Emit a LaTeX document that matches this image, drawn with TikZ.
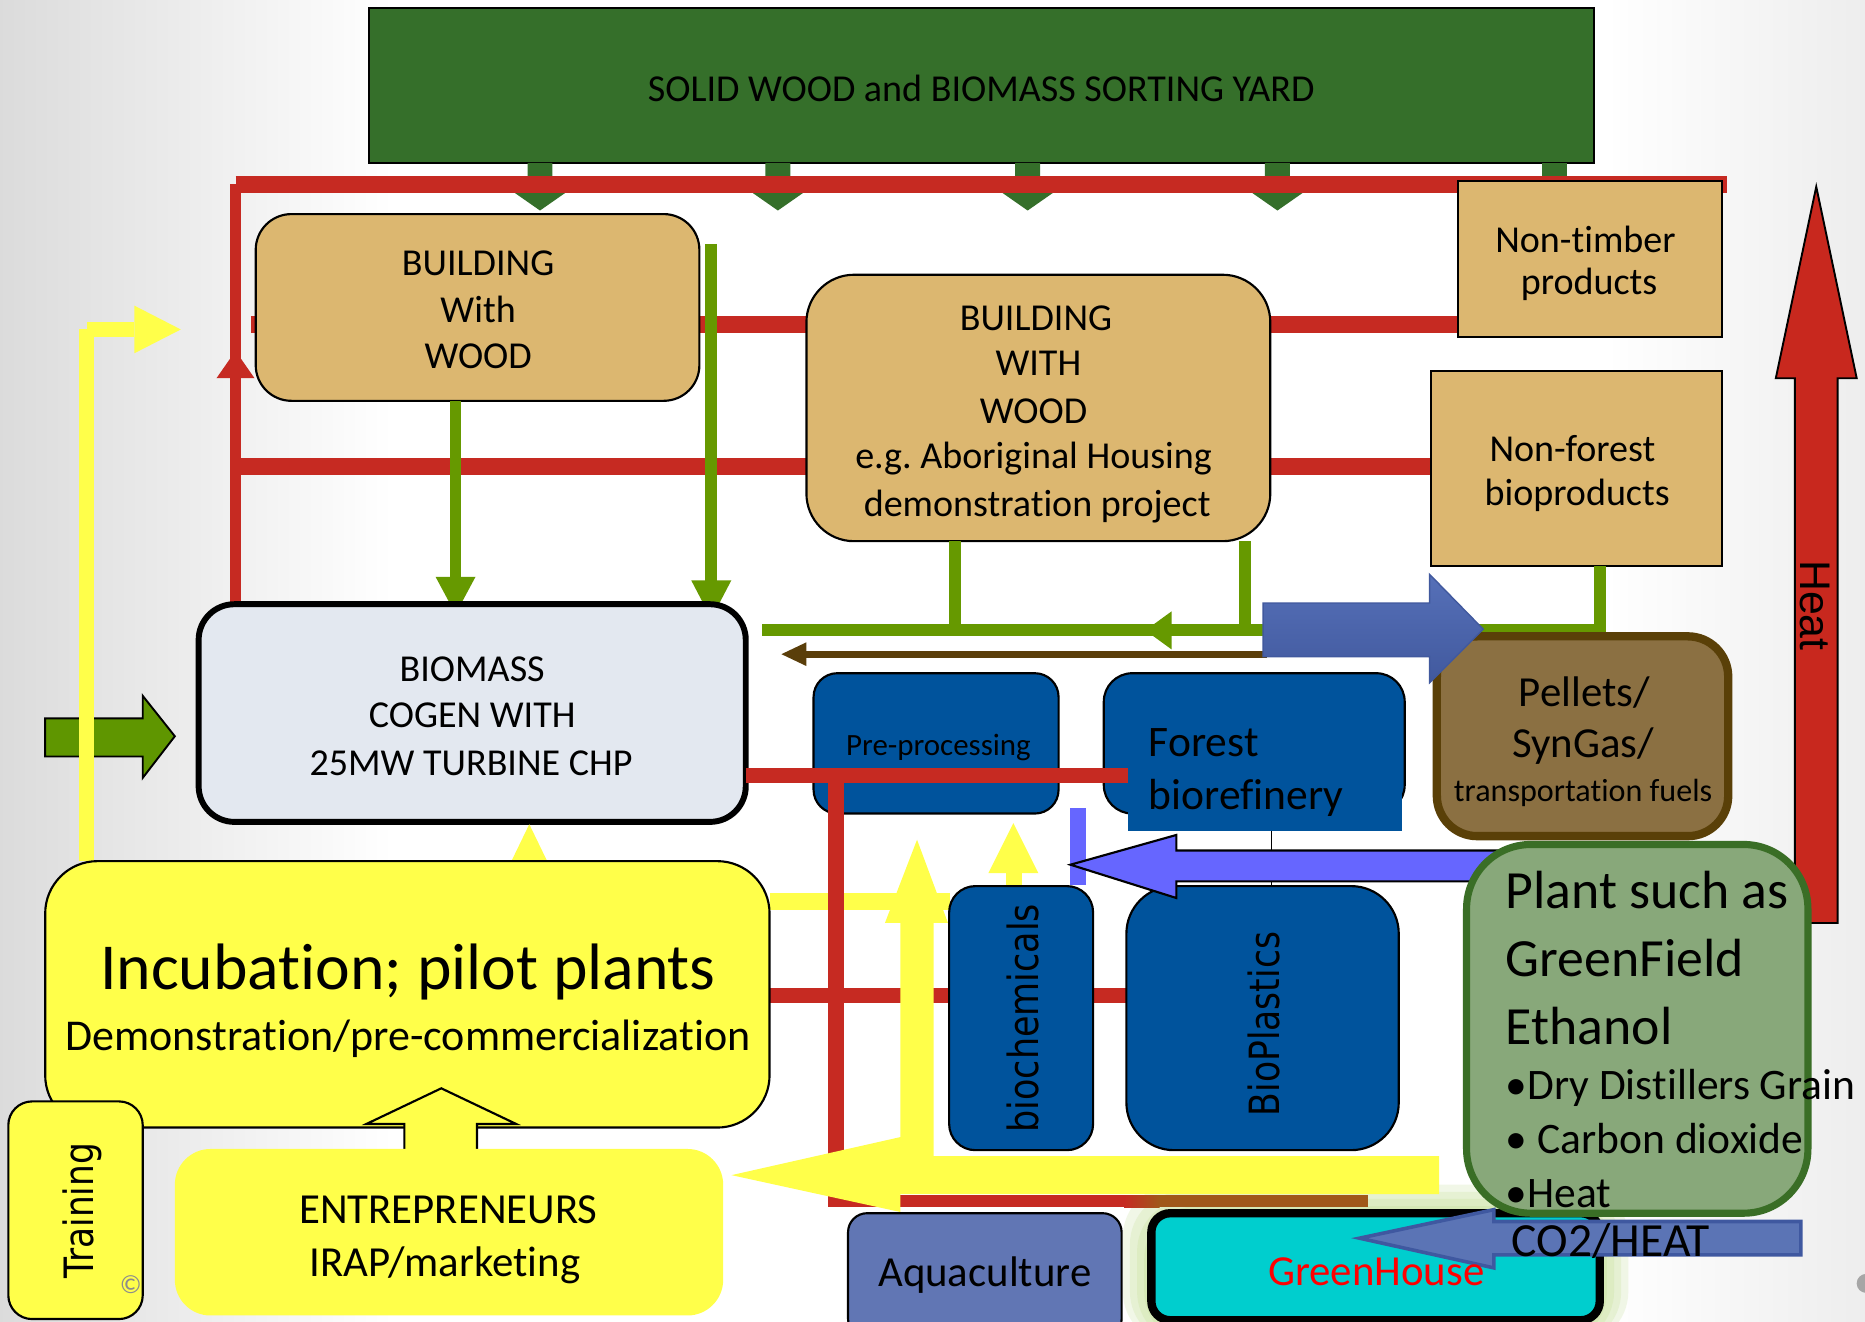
\documentclass[tikz,border=0pt]{standalone}
\usepackage{fontspec}
\usepackage{graphicx}
\setmainfont{Carlito}[Ligatures={NoCommon}]
\newfontfamily\dvfont{DejaVu Sans}
\newfontfamily\arfont{Liberation Sans}
\usetikzlibrary{fit,arrows.meta}
\definecolor{sortgreen}{HTML}{356F2A}
\definecolor{redc}{HTML}{C62A22}
\definecolor{tanc}{HTML}{DCB770}
\definecolor{olivec}{HTML}{669900}
\definecolor{brownc}{HTML}{5A3E0A}
\definecolor{bluetop}{HTML}{5670B8}
\definecolor{bluebot}{HTML}{41599E}
\definecolor{cogenc}{HTML}{E3E8F0}
\definecolor{blockgreen}{HTML}{5F9600}
\definecolor{yelc}{HTML}{FFFF4A}
\definecolor{procblue}{HTML}{00539C}
\definecolor{peric}{HTML}{6666FF}
\definecolor{plantc}{HTML}{88A87A}
\definecolor{plantborder}{HTML}{3A6E26}
\definecolor{pelletc}{HTML}{8B7042}
\definecolor{pelletborder}{HTML}{5A4008}
\definecolor{aquac}{HTML}{6176B4}
\definecolor{ghc}{HTML}{00CECE}
\definecolor{co2c}{HTML}{5B74B5}
\definecolor{co2border}{HTML}{3F58A0}
\definecolor{heatc}{HTML}{C8281E}
\definecolor{orangebrown}{HTML}{A0581A}
\definecolor{glowc}{HTML}{B5D67A}
\newcommand\myfs[2]{\fontsize{#1pt}{#2pt}\selectfont}
\frenchspacing
\begin{document}
\begin{tikzpicture}[x=0.5pt,y=-0.5pt,
  fitbox/.style={inner sep=0pt, outer sep=0pt},
  txt/.style={inner sep=0pt, outer sep=0pt, anchor=base},
  txtw/.style={inner sep=0pt, outer sep=0pt, anchor=base west},
  redh/.style={draw=redc, line width=7pt},
  redv/.style={draw=redc, line width=5pt},
  redm/.style={draw=redc, line width=6.5pt},
  olivel/.style={draw=olivec, line width=5pt},
  tanbox/.style={fitbox, fill=tanc, draw=black, line width=0.9pt},
  procbox/.style={fitbox, fill=procblue, draw=black, line width=0.9pt},
  yelbox/.style={fitbox, fill=yelc, draw=black, line width=0.9pt},
  f16/.style={font=\myfs{16}{19}},
  f18/.style={font=\myfs{18}{21}},
]
\useasboundingbox (0,0) rectangle (1568,1111);
\clip (0,0) rectangle (1568,1111);
% background
\fill[white] (0,0) rectangle (1568,1111);
\shade[left color=black!14, right color=white] (0,0) rectangle (330,1111);
\shade[left color=white, right color=black!7] (1350,0) rectangle (1568,1111);

% greenhouse glow (background)
\foreach \g in {24,18,12,6}{
  \fill[glowc, opacity=0.18, rounded corners=22pt] (968-\g,1020-\g) rectangle (1345+\g,1130);
}

% sorting yard and its arrows
\node[fitbox, fill=sortgreen, draw=black, line width=0.9pt, fit={(310,7) (1340,137)}] (sort) {};
\node[txt, f16] (sortt) at (825,85) {SOLID WOOD and BIOMASS SORTING YARD};
\foreach \a in {454,654,864,1074}{
  \fill[sortgreen] (\a-10.5,137) -- (\a+10.5,137) -- (\a+10.5,162) -- (\a+21.5,162) -- (\a,177) -- (\a-21.5,162) -- (\a-10.5,162) -- cycle;
}
\fill[sortgreen] (1296.5,137) rectangle (1317.5,152);

% red lines upper
\draw[redh] (198,155) -- (1452,155);
\draw[redv] (198,155) -- (198,509);
\fill[redc] (182,318) -- (198,295) -- (214,318) -- cycle;
\draw[redh] (211,273) -- (1226,273);
\draw[redh] (198,392) -- (1203,392);

% upper boxes
\node[tanbox, rounded corners=15pt, fit={(215,180) (588,337)}] (b1) {};
\node[txt, f16] (b1a) at (402,232) {BUILDING};
\node[txt, f16] (b1b) at (402,271) {With};
\node[txt, f16] (b1c) at (402,310) {WOOD};

\node[tanbox, rounded corners=20pt, fit={(678,231) (1068,455)}] (b2) {};
\node[txt, f16] (b2a) at (871,278) {BUILDING};
\node[txt, f16] (b2b) at (873,316) {WITH};
\node[txt, f16] (b2c) at (869,356) {WOOD};
\node[txt, f16] (b2d) at (869,394) {e.g. Aboriginal Housing};
\node[txt, f16] (b2e) at (872,434) {demonstration project};

\node[tanbox, fit={(1226,152) (1448,283)}] (nt) {};
\node[txt, f16] (nta) at (1333,212) {Non-timber};
\node[txt, f16] (ntb) at (1336,248) {products};

\node[tanbox, fit={(1203,312) (1448,476)}] (nf) {};
\node[txt, f16] (nfa) at (1322,388) {Non-forest};
\node[txt, f16] (nfb) at (1326,425) {bioproducts};

% olive green flows
\draw[olivel, -{Triangle[width=15.5pt,length=16pt]}] (383,337) -- (383,517);
\draw[olivel, -{Triangle[width=15.5pt,length=16.5pt]}] (598,205) -- (598,521);
\draw[olivel] (1345,476) -- (1345,530) -- (641,530);
\draw[olivel] (803,455) -- (803,530);
\draw[olivel] (1047,455) -- (1047,530);
\fill[olivec] (963,530) -- (985,514) -- (985,546) -- cycle;

% brown arrow
\draw[brownc, line width=3pt] (1065,550) -- (675,550);
\fill[brownc] (657,550) -- (678,540) -- (678,560) -- cycle;

% heat arrow
\draw[fill=heatc, draw=black, line width=0.8pt] (1509,776) -- (1509,318) -- (1493,318) -- (1527,157) -- (1561,318) -- (1545,318) -- (1545,776) -- cycle;
\node[inner sep=0pt, rotate=-90, font=\arfont\myfs{18}{20}] (heatt) at (1526,509) {Heat};

% cogen
\node[fitbox, fill=cogenc, draw=black, line width=2.5pt, rounded corners=15pt, fit={(167,508) (627,691)}] (cogen) {};
\node[txt, f16] (cga) at (397,573) {BIOMASS};
\node[txt, f16] (cgb) at (397,612) {COGEN WITH};
\node[txt, f16] (cgc) at (396,652) {25MW TURBINE CHP};
\draw[fill=blockgreen, draw=black, line width=0.8pt] (38,604) -- (120,604) -- (120,585) -- (147,619) -- (120,654) -- (120,636) -- (38,636) -- cycle;

% yellow L at left
\fill[yelc] (66,277) rectangle (79,724);
\fill[yelc] (73,271) rectangle (113,283);
\fill[yelc] (113,257) -- (152,277) -- (113,297) -- cycle;
\fill[yelc] (429,726) -- (445,693) -- (461,726) -- cycle;

% processing boxes
\node[procbox, rounded corners=10pt, fit={(684,566) (890,684)}] (pre) {};
\node[txt, font=\myfs{13}{15}] (pret) at (789,635) {Pre-processing};
\node[procbox, rounded corners=12pt, fit={(928,566) (1181,684)}] (forest) {};

% yellow horizontal
\fill[yelc] (647,751) rectangle (799,765);

% red lines lower
\draw[redm] (627,652) -- (948,652);
\draw[redh] (703,646) -- (703,1015);
\draw[redv] (703,1010) -- (946,1010);
\shade[left color=redc, right color=orangebrown] (945,1005) rectangle (975,1015);
\fill[orangebrown] (974,1005) rectangle (1150,1015);
\draw[redm] (647,837) -- (948,837);

% forest text
\fill[procblue] (948,640) rectangle (1179,699);
\node[txtw, font=\myfs{18.3}{21}] (fra) at (966,636) {Forest};
\node[txtw, font=\myfs{18.3}{21}] (frb) at (966,681) {biorefinery};

% big yellow arrow
\fill[yelc] (615,988) -- (757,956) -- (757,776) -- (744,776) -- (771,706) -- (797,776) -- (785,776) -- (785,972) -- (1210,972) -- (1210,1004) -- (757,1004) -- (757,1019) -- cycle;
\fill[yelc] (846,732) rectangle (859,746);
\fill[yelc] (831,734) -- (852,692) -- (873,734) -- cycle;

% biochemicals, bioplastics
\node[procbox, rounded corners=11pt, fit={(798,745) (919,967)}] (bioch) {};
\node[inner sep=0pt, rotate=90, font=\dvfont\myfs{17.5}{20}] (biocht) at (860,856) {\scalebox{0.84}[1]{biochemicals}};
\node[procbox, rounded corners=20pt, fit={(947,745) (1176,967)}] (biopl) {};
\node[inner sep=0pt, rotate=90, font=\dvfont\myfs{17.5}{20}] (bioplt) at (1063,861) {\scalebox{0.83}[1]{BioPlastics}};

% periwinkle arrow
\fill[peric] (900,679) rectangle (913,744);
\draw[line width=0.6pt] (1069,699) -- (1069,745);
\draw[fill=peric, draw=black, line width=0.9pt] (900,727) -- (989,702) -- (989,715) -- (1262,715) -- (1262,741) -- (989,741) -- (989,755) -- cycle;

% pellets
\node[fitbox, fill=pelletc, draw=pelletborder, line width=3.5pt, rounded corners=17pt, fit={(1208,535) (1453,703)}] (pel) {};
\node[txt, f18] (pela) at (1332,594) {Pellets/};
\node[txt, f18] (pelb) at (1331,637) {SynGas/};
\node[txt, font=\myfs{13.5}{16}] (pelc) at (1331,674) {transportation fuels};

% blue right arrow
\shadedraw[top color=bluetop, bottom color=bluebot, draw=bluebot, line width=0.6pt] (1062,507) -- (1202,507) -- (1202,483) -- (1247,529) -- (1202,574) -- (1202,552) -- (1062,552) -- cycle;

% incubation
\node[yelbox, rounded corners=22pt, fit={(38,724) (647,948)}] (inc) {};
\node[txt, font=\myfs{27.6}{30}] (inca) at (343,832) {Incubation; pilot plants};
\node[txt, font=\myfs{18.5}{21}] (incb) at (343,883) {Demonstration/pre-commercialization};

% entrepreneurs
\draw[fill=yelc, draw=black, line width=0.9pt] (340,968) -- (340,945) -- (308,945) -- (371,915) -- (434,945) -- (401,945) -- (401,968);
\node[fitbox, fill=yelc, rounded corners=15pt, fit={(147,966) (608,1106)}] (ent) {};
\node[txt, f18] (enta) at (377,1029) {ENTREPRENEURS};
\node[txt, f18] (entb) at (374,1073) {IRAP/marketing};

% training
\node[yelbox, rounded corners=10pt, fit={(7,926) (120,1109)}] (train) {};
\node[inner sep=0pt, rotate=90, font=\dvfont\myfs{17}{20}] (traint) at (69,1018) {\scalebox{0.85}[1]{Training}};
\node[inner sep=0pt, text=black!45, font=\myfs{11}{13}] (copyr) at (110,1080) {©};

% aquaculture
\node[fitbox, fill=aquac, draw=black, line width=0.9pt, rounded corners=8pt, fit={(713,1020) (943,1125)}] (aqua) {};
\node[txt, f18] (aquat) at (828,1082) {Aquaculture};

% greenhouse box
\node[fitbox, fill=ghc, draw=black, line width=3.5pt, rounded corners=8pt, fit={(968,1020) (1345,1110)}] (gh) {};

% plant
\node[fitbox, fill=plantc, draw=plantborder, line width=3pt, rounded corners=27pt, fit={(1233,710) (1520,1020)}] (plant) {};
\node[txtw, font=\myfs{22.6}{26}] (pla) at (1266,764) {Plant such as};
\node[txtw, font=\myfs{22.6}{26}] (plb) at (1266,821) {GreenField};
\node[txtw, font=\myfs{22.6}{26}] (plc) at (1266,878) {Ethanol};
\node[txtw, font=\myfs{18.3}{21}] (pld) at (1266,924) {•Dry Distillers Grain};
\node[txtw, font=\myfs{18.3}{21}] (ple) at (1266,970) {• Carbon dioxide};
\node[txtw, font=\myfs{18.3}{21}] (plf) at (1266,1015) {•Heat};

% CO2 arrow
\draw[fill=co2c, draw=co2border, line width=1.5pt] (1143,1041) -- (1256,1017) -- (1256,1027) -- (1514,1027) -- (1514,1055) -- (1256,1055) -- (1256,1066) -- cycle;
\node[txtw, font=\myfs{20}{23}] (co2t) at (1271,1056) {CO2/HEAT};
\node[txt, f18, text=red] (ght) at (1157,1081) {GreenHouse};

% edge dot
\fill[black!35] (1569,1079) circle (8);
\end{tikzpicture}
\end{document}
